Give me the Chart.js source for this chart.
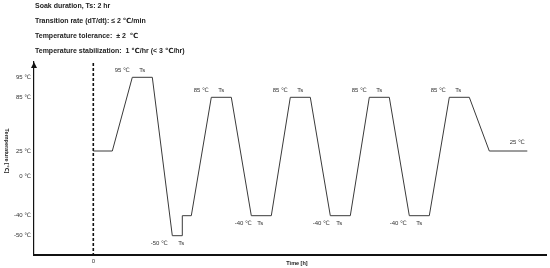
<!DOCTYPE html>
<html>
<head>
<meta charset="utf-8">
<script src="https://cdn.jsdelivr.net/npm/chart.js@4.4.1/dist/chart.umd.min.js"></script>
<style>
  html, body { margin: 0; padding: 0; background: #fff; }
</style>
</head>
<body>
<canvas id="plot" width="550" height="268"></canvas>
<script>
// test profile: time in hours, temperature in ℃
const times = [0, 1.9, 3.9, 5.9, 7.9, 8.9, 8.9, 9.8, 11.8, 13.8, 15.8, 17.8, 19.7, 21.7, 23.7, 25.7, 27.6, 29.6, 31.6, 33.6, 35.6, 37.6, 39.6, 43.4];
const temps = [25, 25, 95, 95, -50, -50, -40, -40, 85, 85, -40, -40, 85, 85, -40, -40, 85, 85, -40, -40, 85, 85, 25, 25];

const tempTicks = [95, 85, 25, 0, -40, -50];
const timeTicks = [0];

const headerLines = [
    'Soak duration, Ts: 2 hr',
    'Transition rate (dT/dt): ≤ 2 ℃/min',
    'Temperature tolerance:  ± 2  ℃',
    'Temperature stabilization:  1 ℃/hr (< 3 ℃/hr)'
];

// labels next to the plateaus (text, time [h], temperature of the plateau)
const noteText = ['95 ℃', 'Ts', '-50 ℃', 'Ts', '85 ℃', 'Ts', '-40 ℃', 'Ts', '85 ℃', 'Ts', '-40 ℃', 'Ts', '85 ℃', 'Ts', '-40 ℃', 'Ts', '85 ℃', 'Ts', '25 ℃'];
const noteTime = [2.9, 4.9, 6.6, 8.8, 10.8, 12.8, 15.0, 16.7, 18.7, 20.7, 22.8, 24.6, 26.6, 28.6, 30.5, 32.6, 34.5, 36.5, 42.4];
const noteTemp = [95, 95, -50, -50, 85, 85, -40, -40, 85, 85, -40, -40, 85, 85, -40, -40, 85, 85, 25];

const FONT = '"Liberation Sans", Arial, "DejaVu Sans", sans-serif';

// the temperature axis is schematic, not to scale:
// each level sits at its own height (px above the time axis)
const axisTemps = [-50, -40, 0, 25, 85, 95];
const axisHeights = [19.3, 39.3, 79, 104, 157.7, 177.7];

function warp(v) {
    let i = 1;
    while (i < axisTemps.length - 1 && v > axisTemps[i]) i++;
    const t0 = axisTemps[i - 1], t1 = axisTemps[i];
    const h0 = axisHeights[i - 1], h1 = axisHeights[i];
    return h0 + (v - t0) * (h1 - h0) / (t1 - t0);
}

class SchematicScale extends Chart.LinearScale {
    static id = 'schematic';
    getPixelForValue(value) {
        return super.getPixelForValue(warp(value));
    }
}
Chart.register(SchematicScale);

const extras = {
    id: 'extras',
    beforeDatasetsDraw(chart) {
        // dashed line at t = 0
        const ctx = chart.ctx;
        const x0 = chart.scales.x.getPixelForValue(0);
        ctx.save();
        ctx.strokeStyle = '#111';
        ctx.lineWidth = 1.6;
        ctx.setLineDash([3, 2]);
        ctx.beginPath();
        ctx.moveTo(x0, 63);
        ctx.lineTo(x0, 257);
        ctx.stroke();
        ctx.restore();
    },
    afterDraw(chart) {
        const ctx = chart.ctx;
        const xs = chart.scales.x, ys = chart.scales.y;
        const area = chart.chartArea;
        ctx.save();

        // arrow head on the temperature axis
        ctx.fillStyle = '#111';
        ctx.beginPath();
        ctx.moveTo(area.left, area.top);
        ctx.lineTo(area.left - 3, area.top + 6);
        ctx.lineTo(area.left + 3, area.top + 6);
        ctx.closePath();
        ctx.fill();

        // header text
        ctx.fillStyle = '#222';
        ctx.font = 'bold 7px ' + FONT;
        ctx.textBaseline = 'middle';
        ctx.textAlign = 'left';
        headerLines.forEach((line, i) => {
            ctx.fillText(line, 35, 6 + i * 14.9);
        });

        // plateau labels, above the hot ones and below the cold ones
        ctx.font = '6px ' + FONT;
        ctx.fillStyle = '#333';
        ctx.textAlign = 'center';
        noteText.forEach((txt, i) => {
            const px = xs.getPixelForValue(noteTime[i]);
            const py = ys.getPixelForValue(noteTemp[i]);
            const off = noteTemp[i] > 0 ? (noteTemp[i] === 25 ? -9 : -7) : 7.5;
            ctx.fillText(txt, px, py + off);
        });

        // axis titles
        ctx.font = 'bold 5.5px ' + FONT;
        ctx.fillStyle = '#222';
        ctx.fillText('Time [h]', 297, 263);
        ctx.translate(7, 151);
        ctx.rotate(Math.PI / 2);
        ctx.fillText('Temperature [℃]', 0, 0);
        ctx.restore();
    }
};

const ctx = document.getElementById('plot').getContext('2d');
const myChart = new Chart(ctx, {
    type: 'line',
    data: {
        datasets: [{
            data: times.map((t, i) => ({ x: t, y: temps[i] })),
            borderColor: '#3a3a3a',
            borderWidth: 1,
            pointRadius: 0,
            tension: 0,
            fill: false
        }]
    },
    options: {
        responsive: false,
        animation: false,
        devicePixelRatio: 1,
        layout: { padding: { top: 62, right: 4, left: 0, bottom: 0 } },
        plugins: {
            legend: { display: false },
            tooltip: { enabled: false }
        },
        scales: {
            x: {
                type: 'linear',
                min: -5.93,
                max: 45.27,
                bounds: 'data',
                afterBuildTicks: s => { s.ticks = timeTicks.map(v => ({ value: v })); },
                afterFit: s => { s.height = 13; },
                grid: { display: false, drawTicks: false },
                border: { display: true, color: '#111', width: 2 },
                ticks: {
                    autoSkip: false,
                    maxRotation: 0,
                    padding: 3,
                    color: '#333',
                    font: { size: 6, family: FONT }
                }
            },
            y: {
                type: 'schematic',
                min: 0,
                max: 193,
                bounds: 'data',
                afterBuildTicks: s => { s.ticks = tempTicks.map(v => ({ value: v })); },
                afterFit: s => { s.width = 34; },
                grid: { display: false, drawTicks: false },
                border: { display: true, color: '#111', width: 1.2 },
                ticks: {
                    autoSkip: false,
                    padding: 3,
                    color: '#333',
                    font: { size: 6, family: FONT },
                    callback: v => v + ' ℃'
                }
            }
        }
    },
    plugins: [extras]
});
</script>
</body>
</html>
